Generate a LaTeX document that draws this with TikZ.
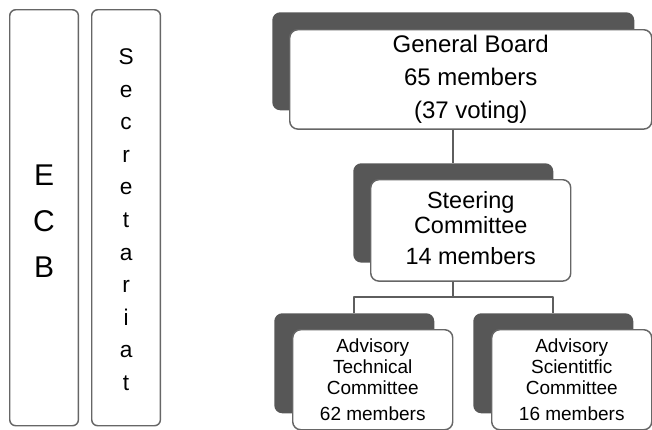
\documentclass[tikz,border=0pt]{standalone}
\usepackage{fontspec}
\setmainfont{Liberation Sans}
\usetikzlibrary{positioning}

\definecolor{shadowgray}{HTML}{575757}
\definecolor{edgegray}{HTML}{666666}
\definecolor{linkgray}{HTML}{5E5E5E}

\tikzset{
  sidebox/.style={draw=edgegray,line width=1.1pt,rounded corners=4.5pt,fill=white,
    anchor=north west,inner sep=0pt,minimum height=312pt},
  sidetext/.style={align=center,inner sep=0pt},
  backcard/.style={fill=shadowgray,rounded corners=6pt,anchor=north west,inner sep=0pt},
  frontcard/.style={draw=edgegray,line width=1.1pt,fill=white,rounded corners=6pt,
    anchor=north west,inner sep=0pt,align=center},
  link/.style={draw=linkgray,line width=1.5pt}
}

\begin{document}
\begin{tikzpicture}[x=0.75pt,y=-0.75pt,line cap=butt,line join=round]
\path[use as bounding box] (0,0) rectangle (652,429);
% side columns
\node[sidebox,minimum width=51.5pt] (ecb) at (9,9) {};
\node[sidetext,font={\fontsize{22.5}{34.3}\selectfont}] (ecbtext) at ([shift={(0,3.5)}]ecb.center)
  {E\\C\\B};
\node[sidebox,minimum width=51.5pt] (secr) at (91,9) {};
\node[sidetext,font={\fontsize{17}{24.45}\selectfont}] (secrtext) at ([shift={(0,2)}]secr.center)
  {S\\e\\c\\r\\e\\t\\a\\r\\i\\a\\t};
% general board
\node[backcard,minimum width=271.5pt,minimum height=73.5pt] (gbs) at (272,12) {};
\node[frontcard,minimum width=271.5pt,minimum height=74.5pt,font={\fontsize{18}{24.75}\selectfont}]
  (gb) at ([shift={(17,17)}]gbs.north west) {General Board\\65 members\\(37 voting)};
% steering committee
\node[backcard,minimum width=150pt,minimum height=74.5pt] (scs) at (353,163) {};
\node[frontcard,minimum width=150pt,minimum height=76pt,font={\fontsize{17.6}{18.75}\selectfont}]
  (sc) at ([shift={(17,16)}]scs.north west) {Steering\\Committee\\[5pt]14 members\\[-15pt]\mbox{}};
% advisory committees
\node[backcard,minimum width=120pt,minimum height=75pt] (ats) at (274,313) {};
\node[frontcard,minimum width=120pt,minimum height=75pt,font={\fontsize{14.25}{15.75}\selectfont}]
  (at) at ([shift={(18,16)}]ats.north west) {Advisory\\Technical\\Committee\\[3.75pt]62 members};
\node[backcard,minimum width=120pt,minimum height=75pt] (ass) at (473,313) {};
\node[frontcard,minimum width=120pt,minimum height=75pt,font={\fontsize{14.25}{15.75}\selectfont}]
  (as) at ([shift={(18,16)}]ass.north west) {Advisory\\Scientitfic\\Committee\\[3.75pt]16 members};
% connectors
\draw[link] (gbs.center |- gb.south) -- (scs.north);
\draw[link] (scs.center |- sc.south) -- ++(0,15) coordinate (fork);
\draw[link] (ats.north) |- (fork) -| (ass.north);
\end{tikzpicture}
\end{document}
